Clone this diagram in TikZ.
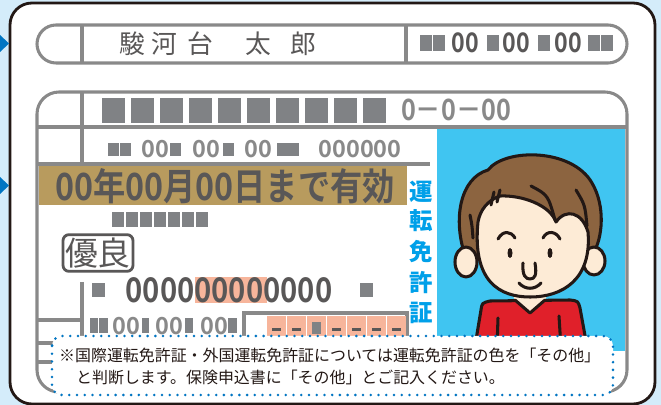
\documentclass[tikz,border=0pt]{standalone}
\usepackage{fontspec}
\usetikzlibrary{positioning}
\newfontfamily\jpfont{Noto Sans CJK JP}
\newfontfamily\jpbold{Noto Sans CJK JP Bold}
\newfontfamily\jpnarrow{Noto Sans CJK JP Bold}[FakeStretch=0.86]
\newfontfamily\jpheavy{Noto Sans CJK JP Black}
\definecolor{bgblue}{HTML}{D4ECFA}
\definecolor{edgeblack}{HTML}{231815}
\definecolor{linegray}{HTML}{898989}
\definecolor{blkgray}{HTML}{808285}
\definecolor{textgray}{HTML}{595757}
\definecolor{bandgold}{HTML}{B89B5E}
\definecolor{salmon}{HTML}{F7B59B}
\definecolor{photoblue}{HTML}{40C5F1}
\definecolor{titleblue}{HTML}{00A0E9}
\definecolor{dotblue}{HTML}{0075C2}
\definecolor{skin}{HTML}{FDEBD6}
\definecolor{hairbrown}{HTML}{8C6440}
\definecolor{shirtred}{HTML}{E0202A}
\tikzset{
  cardline/.style={draw=linegray, line width=2.6pt},
  blk/.style={fill=blkgray},
  txt/.style={inner sep=0pt, text=textgray},
  graytxt/.style={inner sep=0pt, text=linegray},
  faceline/.style={draw=edgeblack, line width=2.6pt, line cap=round, line join=round},
  notebox/.style={draw=dotblue, fill=white, line width=2.4pt, line cap=round,
    dash pattern=on 0pt off 6.6pt, rounded corners=0.3cm},
}

\begin{document}
\begin{tikzpicture}[x=0.03cm, y=-0.03cm]
  \useasboundingbox (0,0) rectangle (661,405);
  \fill[bgblue] (0,0) rectangle (661,405);

  % card and side marks
  \draw[draw=edgeblack, fill=white, line width=2.4pt, rounded corners=0.66cm] (10,3) rectangle (655,404);
  \fill[dotblue] (0,35) -- (9,43.5) -- (0,52) -- cycle;
  \fill[dotblue] (0,177) -- (9,185.5) -- (0,194) -- cycle;

  % name bar
  \draw[cardline, rounded corners=0.57cm] (37,25) rectangle (627,63);
  \draw[cardline] (82,25) -- (82,63);
  \draw[cardline] (406,25) -- (406,63);
  \foreach \c/\x in {駿/132,河/164,台/200,太/258,郎/303}
    \node[txt, font=\jpfont\fontsize{22}{22}\selectfont] (name\x) at (\x,44) {\c};
  \foreach \x in {420,433,487,538,588,601}
    \fill[blk] (\x,35) rectangle ++(12,16);
  \foreach \x in {465,516,568}
    \node[txt, font=\jpnarrow\fontsize{23}{23}\selectfont] (birth\x) at (\x,43) {00};

  % main frame
  \draw[cardline, fill=white, rounded corners=0.66cm] (37,92) rectangle (627,392);
  \fill[photoblue] (437,129) rectangle (625,351);
  \fill[bandgold] (38.5,166) rectangle (407,205);
  \draw[cardline] (37,127) -- (627,127);
  \draw[cardline] (37,164) -- (430,164);
  \draw[cardline] (82,92) -- (82,164);
  \draw[cardline] (82,282) -- (82,340);
  \draw[cardline] (37,320) -- (82,320);
  \draw[cardline] (37,343) -- (60,343);
  \draw[cardline] (37,362) -- (60,362);

  % address rows
  \foreach \i in {0,...,9}
    \fill[blk] (102+29*\i,98) rectangle ++(23,25);
  \node[graytxt, font=\jpnarrow\fontsize{25}{25}\selectfont] (licno) at (456,110) {0－0－00};
  \foreach \x in {108,120,170,223,277,288}
    \fill[blk] (\x,143) rectangle ++(11,13);
  \foreach \x in {155,206,258}
    \node[graytxt, font=\jpbold\fontsize{20}{20}\selectfont] (issue\x) at (\x,149) {00};
  \node[graytxt, font=\jpbold\fontsize{20}{20}\selectfont] (issueno) at (360,149) {000000};

  % expiry band
  \node[txt, font=\jpnarrow\fontsize{32}{32}\selectfont] (expiry) at (225,186) {00年00月00日まで有効};
  \foreach \i in {0,...,6}
    \fill[blk] (112+14*\i,212) rectangle ++(12,15);
  \node[txt, draw=textgray, line width=2.4pt, rounded corners=0.18cm, minimum width=2.1cm, minimum height=1.1cm,
    font=\jpfont\fontsize{28}{28}\selectfont] (grade) at (98,253) {優良};

  % licence number
  \fill[salmon] (195,277) rectangle (267,303);
  \fill[blk] (92,283) rectangle ++(13,14);
  \fill[blk] (360,283) rectangle ++(13,14);
  \node[txt, font=\jpnarrow\fontsize{29}{29}\selectfont] (licnum) at (229,290) {000000000000};

  % kinds row
  \fill[blk] (90,318) rectangle (98,333);
  \fill[blk] (99,318) rectangle (108,333);
  \fill[blk] (142,318) rectangle (149,333);
  \fill[blk] (185,318) rectangle (193,333);
  \fill[blk] (228,318) rectangle (237,333);
  \foreach \x in {126,169,214}
    \node[graytxt, font=\jpbold\fontsize{20}{20}\selectfont] (kind\x) at (\x,326) {00};
  \draw[cardline] (244,313) rectangle (407,350);
  \foreach \i in {0,...,6}
    \fill[salmon] (267+20*\i,316) rectangle ++(18.5,30);
  \foreach \i in {0,1,3,4,5,6}
    \fill[textgray] (272+20*\i,328) rectangle ++(9,3.5);
  \fill[blk] (312,322) rectangle ++(9,12);

  % vertical title
  \foreach \c/\y in {運/192,転/221,免/252,許/283,証/313}
    \node[inner sep=0pt, text=titleblue, font=\jpheavy\fontsize{20}{20}\selectfont] (title\y) at (421,\y) {\c};

  % photo
  \begin{scope}[faceline]
    \filldraw[fill=shirtred] (474,352) -- (481,310) .. controls (482,303) .. (490,301) -- (570,300)
      .. controls (578,301) .. (580,308) -- (588,352);
    \fill[skin] (508,285) -- (515,300) -- (530,313) -- (545,300) -- (552,285) -- cycle;
    \draw (515,300) -- (530,313) -- (545,300);
    \draw (498,318) -- (497,348);
    \draw (559,316) -- (561,348);
    \fill[hairbrown] (466,258) .. controls (452,220) and (460,178) .. (488,170)
      .. controls (505,148) and (572,148) .. (592,183) .. controls (606,207) and (602,238) .. (594,252)
      -- (530,240) -- cycle;
    \draw (466,258) .. controls (452,220) and (460,178) .. (488,170)
      .. controls (505,148) and (572,148) .. (592,183) .. controls (606,207) and (602,238) .. (594,252);
    \filldraw[fill=skin] (466,262) ellipse (11 and 15);
    \filldraw[fill=skin] (594,261) ellipse (11 and 14);
    \filldraw[fill=skin] (478,222) .. controls (472,282) and (500,297) .. (530,297)
      .. controls (562,297) and (592,280) .. (588,232) .. controls (582,212) and (566,208) .. (556,222)
      .. controls (550,205) and (522,195) .. (500,196) .. controls (488,200) and (480,210) .. cycle;
    \draw (470,215) .. controls (472,225) .. (473,238);
    \draw (494,192) -- (491,205);
    \draw (500,190) -- (497,202);
    \draw (531,186) .. controls (548,195) .. (555,220);
    \draw (576,190) .. controls (585,205) .. (587,226);
    \draw (498,239) .. controls (503,230) and (511,231) .. (515,238);
    \draw (543,238) .. controls (547,230) and (556,231) .. (560,239);
    \fill[edgeblack] (510,253) ellipse (2.5 and 5);
    \fill[edgeblack] (550,253) ellipse (2.5 and 5);
    \draw (523,263) .. controls (522,276) and (526,279) .. (530,279) .. controls (535,279) and (537,275) .. (535,263);
    \draw (519,283) .. controls (525,290) and (535,290) .. (541,283);
  \end{scope}

  % note
  \draw[notebox] (52,336) rectangle (613,395);
  \node[anchor=west, inner sep=0pt, text=edgeblack, font=\jpfont\fontsize{13.6}{14}\selectfont] (note1) at (59,355)
    {※国際運転免許証・外国運転免許証については運転免許証の色を「その他」};
  \node[anchor=west, inner sep=0pt, text=edgeblack, font=\jpfont\fontsize{13.6}{14}\selectfont] (note2) at (76,377)
    {と判断します。保険申込書に「その他」とご記入ください。};
\end{tikzpicture}
\end{document}
